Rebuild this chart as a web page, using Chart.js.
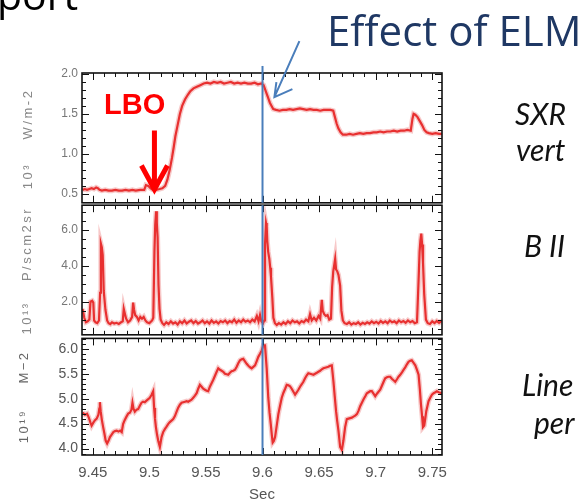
<!DOCTYPE html>
<html>
<head>
<meta charset="utf-8">
<script src="https://cdn.jsdelivr.net/npm/chart.js@4.4.1/dist/chart.umd.min.js"></script>
<style>
  html, body { margin: 0; padding: 0; background: #fff; }
  #wrap { position: relative; width: 581px; height: 504px; overflow: hidden; background: #fff; }
  #wrap canvas { position: absolute; left: 0; }
  #c1 { top: 0; }
  #c2 { top: 194px; }
  #c3 { top: 326px; }
  #notes { position: absolute; left: 0; top: 0; pointer-events: none; }
</style>
</head>
<body>
<div id="wrap">
  <canvas id="c1" width="581" height="214"></canvas>
  <canvas id="c2" width="581" height="152"></canvas>
  <canvas id="c3" width="581" height="178"></canvas>
  <svg id="notes" width="581" height="504">
    <text x="-3" y="10" font-family="Open Sans" font-size="41" fill="#000">port</text>
    <text x="327" y="46" font-family="Open Sans" font-size="42" fill="#1f3864">Effect of ELM</text>
    <text x="104" y="114" font-family="Liberation Sans" font-weight="bold" font-size="29" fill="#ff0000">LBO</text>

    <g font-family="Lato" font-style="italic" font-size="30" fill="#111">
      <text x="515" y="125">SXR</text>
      <text x="516" y="161">vert</text>
      <text x="524" y="257">B II</text>
      <text x="522" y="396">Line</text>
      <text x="534" y="434">per</text>
    </g>

    <g font-family="Liberation Sans" font-size="13" letter-spacing="2.5" text-anchor="middle" dominant-baseline="central">
      <text fill="#888" transform="translate(27,114) rotate(-90)">W/m-2</text>
      <text fill="#888" transform="translate(27,176) rotate(-90)">10³</text>
      <text fill="#888" transform="translate(26,244) rotate(-90)">P/scm2sr</text>
      <text fill="#888" transform="translate(26,318) rotate(-90)">10¹³</text>
      <text fill="#666" transform="translate(23,367) rotate(-90)">M−2</text>
      <text fill="#666" transform="translate(23,426) rotate(-90)">10¹⁹</text>
    </g>
  </svg>
</div>

<script>
// ---------- data ----------
const timeRange = [9.4405, 9.7586];
const timeTicks = [9.45, 9.5, 9.55, 9.6, 9.65, 9.7, 9.75];
const elmTime = 9.6;

// SXR (10^3 W/m-2)
const sxrRange = [0.388, 2.012];
const sxrTicks = [0.5, 1.0, 1.5, 2.0];
const sxrSeries = [
  [9.4410,0.55],[9.4430,0.56],[9.4450,0.55],[9.4470,0.56],[9.4490,0.57],[9.4510,0.56],[9.4530,0.58],[9.4545,0.57],
  [9.4560,0.55],[9.4580,0.54],[9.4610,0.55],[9.4640,0.54],[9.4670,0.54],[9.4700,0.55],[9.4730,0.54],[9.4760,0.54],
  [9.4790,0.55],[9.4820,0.54],[9.4850,0.55],[9.4880,0.54],[9.4920,0.55],[9.4955,0.55],[9.4970,0.61],[9.4990,0.60],
  [9.5010,0.57],[9.5030,0.55],[9.5060,0.55],[9.5090,0.56],[9.5115,0.57],[9.5140,0.60],[9.5160,0.68],[9.5180,0.80],
  [9.5200,0.95],[9.5215,1.08],[9.5230,1.22],[9.5250,1.36],[9.5270,1.50],[9.5290,1.60],[9.5315,1.68],[9.5340,1.74],
  [9.5360,1.78],[9.5390,1.82],[9.5420,1.84],[9.5450,1.86],[9.5480,1.88],[9.5510,1.89],[9.5540,1.88],[9.5570,1.90],
  [9.5600,1.89],[9.5630,1.90],[9.5660,1.88],[9.5690,1.89],[9.5720,1.90],[9.5750,1.88],[9.5780,1.89],[9.5810,1.88],
  [9.5840,1.89],[9.5870,1.88],[9.5900,1.88],[9.5930,1.89],[9.5960,1.87],[9.5990,1.88],[9.6010,1.86],[9.6030,1.78],
  [9.6050,1.70],[9.6065,1.64],[9.6080,1.60],[9.6095,1.56],[9.6120,1.55],[9.6150,1.54],[9.6180,1.55],[9.6210,1.55],
  [9.6240,1.56],[9.6270,1.55],[9.6300,1.56],[9.6330,1.57],[9.6360,1.56],[9.6390,1.55],[9.6420,1.56],[9.6450,1.55],
  [9.6480,1.55],[9.6510,1.54],[9.6540,1.55],[9.6570,1.55],[9.6600,1.55],[9.6625,1.54],[9.6640,1.46],[9.6655,1.38],
  [9.6670,1.32],[9.6690,1.27],[9.6710,1.24],[9.6740,1.24],[9.6770,1.25],[9.6800,1.24],[9.6830,1.25],[9.6860,1.26],
  [9.6890,1.25],[9.6920,1.26],[9.6950,1.26],[9.6980,1.27],[9.7010,1.27],[9.7040,1.28],[9.7070,1.27],[9.7100,1.28],
  [9.7130,1.28],[9.7160,1.29],[9.7190,1.28],[9.7220,1.29],[9.7250,1.29],[9.7280,1.30],[9.7310,1.29],[9.7325,1.44],
  [9.7335,1.50],[9.7350,1.49],[9.7370,1.46],[9.7390,1.41],[9.7410,1.36],[9.7430,1.30],[9.7450,1.27],[9.7470,1.26],
  [9.7500,1.25],[9.7530,1.26],[9.7560,1.25],[9.7586,1.25]
];

// B II (10^13 P/scm2sr)
const bRange = [0.15, 7.39];
const bTicks = [2.0, 4.0, 6.0];
const bSeries = [
  [9.4410,1.60],[9.4425,1.10],[9.4440,0.85],[9.4455,0.90],[9.4470,1.00],[9.4480,2.00],[9.4495,2.05],[9.4505,1.95],
  [9.4512,0.95],[9.4525,0.85],[9.4540,0.80],[9.4555,0.95],[9.4565,2.50],[9.4572,5.25],[9.4580,5.05],[9.4588,4.60],
  [9.4597,2.60],[9.4612,1.55],[9.4627,0.95],[9.4640,0.80],[9.4655,0.75],[9.4670,0.85],[9.4690,0.78],[9.4710,0.82],
  [9.4730,0.76],[9.4750,0.85],[9.4765,0.90],[9.4774,1.60],[9.4785,1.30],[9.4795,1.05],[9.4812,0.85],[9.4830,0.95],
  [9.4848,1.15],[9.4857,1.95],[9.4865,1.55],[9.4875,1.25],[9.4890,1.15],[9.4905,0.95],[9.4920,1.15],[9.4935,1.05],
  [9.4950,1.15],[9.4965,0.95],[9.4980,0.85],[9.5000,0.80],[9.5025,0.95],[9.5035,1.10],[9.5045,4.80],[9.5052,6.30],
  [9.5060,7.05],[9.5066,6.40],[9.5073,5.60],[9.5081,2.95],[9.5090,1.60],[9.5100,1.00],[9.5115,0.80],[9.5130,0.70],
  [9.5150,0.85],[9.5170,0.75],[9.5190,0.90],[9.5210,0.78],[9.5230,0.85],[9.5250,0.72],[9.5270,0.90],[9.5290,0.80],
  [9.5310,0.95],[9.5330,0.78],[9.5350,0.88],[9.5370,0.95],[9.5390,0.80],[9.5410,0.92],[9.5430,0.78],[9.5450,0.85],
  [9.5470,0.95],[9.5490,0.80],[9.5510,0.90],[9.5530,0.78],[9.5550,0.95],[9.5570,0.82],[9.5590,0.90],[9.5610,0.78],
  [9.5630,0.92],[9.5650,0.85],[9.5670,0.95],[9.5690,0.80],[9.5710,0.92],[9.5730,0.85],[9.5750,1.00],[9.5770,0.82],
  [9.5790,0.95],[9.5810,0.85],[9.5830,1.00],[9.5850,0.88],[9.5870,0.95],[9.5890,0.85],[9.5910,1.00],[9.5930,0.90],
  [9.5950,1.20],[9.5965,0.90],[9.5978,1.25],[9.5990,0.90],[9.6005,0.80],[9.6015,0.95],[9.6022,5.20],[9.6031,6.40],
  [9.6037,6.20],[9.6042,5.40],[9.6050,4.80],[9.6060,4.40],[9.6068,3.90],[9.6075,3.40],[9.6087,2.20],[9.6096,1.10],
  [9.6110,0.80],[9.6126,0.70],[9.6145,0.80],[9.6165,0.72],[9.6185,0.85],[9.6205,0.75],[9.6225,0.90],[9.6245,0.80],
  [9.6265,0.95],[9.6285,0.85],[9.6305,0.90],[9.6325,0.78],[9.6345,0.92],[9.6365,0.85],[9.6385,1.00],[9.6405,0.90],
  [9.6420,1.30],[9.6435,0.95],[9.6455,1.10],[9.6475,0.95],[9.6495,1.20],[9.6510,1.05],[9.6524,2.10],[9.6532,1.50],
  [9.6545,1.30],[9.6560,1.20],[9.6575,1.25],[9.6590,1.00],[9.6605,1.05],[9.6615,2.80],[9.6625,3.70],[9.6635,4.10],
  [9.6642,4.40],[9.6650,3.80],[9.6660,3.70],[9.6671,3.50],[9.6686,2.90],[9.6697,1.50],[9.6710,0.95],[9.6725,0.80],
  [9.6745,0.75],[9.6765,0.85],[9.6785,0.72],[9.6805,0.80],[9.6825,0.75],[9.6845,0.85],[9.6865,0.72],[9.6885,0.82],
  [9.6905,0.76],[9.6925,0.85],[9.6945,0.78],[9.6965,0.90],[9.6985,0.80],[9.7005,0.88],[9.7025,0.78],[9.7045,0.92],
  [9.7065,0.82],[9.7085,0.90],[9.7105,0.80],[9.7125,0.95],[9.7145,0.85],[9.7165,0.90],[9.7185,0.80],[9.7205,0.95],
  [9.7225,0.85],[9.7245,0.92],[9.7265,0.82],[9.7285,0.95],[9.7305,0.85],[9.7325,0.92],[9.7345,0.80],[9.7365,0.85],
  [9.7379,3.20],[9.7388,4.80],[9.7395,5.40],[9.7403,5.80],[9.7410,5.20],[9.7418,4.20],[9.7429,2.40],[9.7444,1.00],
  [9.7460,0.80],[9.7480,0.75],[9.7500,0.90],[9.7520,0.80],[9.7540,0.92],[9.7560,0.82],[9.7586,0.95]
];

// line density (10^19 M-2)
const neRange = [3.87, 6.21];
const neTicks = [4.0, 4.5, 5.0, 5.5, 6.0];
const neSeries = [
  [9.4410,4.72],[9.4430,4.68],[9.4450,4.70],[9.4465,4.62],[9.4480,4.52],[9.4490,4.46],[9.4505,4.52],[9.4520,4.57],
  [9.4535,4.60],[9.4550,4.68],[9.4558,4.80],[9.4563,4.93],[9.4570,4.75],[9.4580,4.58],[9.4592,4.43],[9.4603,4.30],
  [9.4614,4.16],[9.4627,4.10],[9.4640,4.16],[9.4652,4.23],[9.4667,4.28],[9.4682,4.33],[9.4697,4.35],[9.4712,4.36],
  [9.4727,4.34],[9.4742,4.36],[9.4756,4.33],[9.4768,4.49],[9.4782,4.57],[9.4798,4.64],[9.4813,4.70],[9.4828,4.72],
  [9.4842,4.78],[9.4851,4.92],[9.4860,4.80],[9.4872,4.74],[9.4887,4.78],[9.4901,4.79],[9.4916,4.86],[9.4931,4.92],
  [9.4945,4.94],[9.4960,4.93],[9.4975,4.96],[9.4990,4.99],[9.5004,5.02],[9.5020,5.08],[9.5034,5.15],[9.5042,4.82],
  [9.5050,4.60],[9.5058,4.43],[9.5068,4.28],[9.5078,4.16],[9.5093,4.03],[9.5108,4.23],[9.5122,4.33],[9.5137,4.39],
  [9.5152,4.44],[9.5166,4.49],[9.5181,4.53],[9.5196,4.56],[9.5211,4.59],[9.5226,4.65],[9.5241,4.74],[9.5255,4.82],
  [9.5270,4.88],[9.5285,4.92],[9.5300,4.93],[9.5315,4.94],[9.5329,4.95],[9.5344,4.94],[9.5358,4.96],[9.5373,4.98],
  [9.5388,5.02],[9.5403,5.06],[9.5418,5.11],[9.5432,5.20],[9.5447,5.28],[9.5462,5.24],[9.5476,5.20],[9.5491,5.18],
  [9.5506,5.16],[9.5520,5.15],[9.5535,5.24],[9.5550,5.31],[9.5565,5.38],[9.5580,5.46],[9.5595,5.54],[9.5609,5.61],
  [9.5624,5.58],[9.5639,5.56],[9.5653,5.54],[9.5668,5.50],[9.5683,5.49],[9.5697,5.48],[9.5712,5.52],[9.5727,5.55],
  [9.5742,5.56],[9.5757,5.58],[9.5772,5.64],[9.5786,5.71],[9.5801,5.77],[9.5816,5.79],[9.5830,5.80],[9.5845,5.75],
  [9.5860,5.70],[9.5875,5.66],[9.5890,5.63],[9.5904,5.61],[9.5919,5.64],[9.5934,5.67],[9.5948,5.75],[9.5963,5.84],
  [9.5978,5.90],[9.5993,5.97],[9.6007,6.07],[9.6022,6.07],[9.6037,5.61],[9.6051,5.02],[9.6062,4.72],[9.6073,4.49],
  [9.6082,4.28],[9.6090,4.12],[9.6100,4.15],[9.6111,4.23],[9.6125,4.45],[9.6140,4.69],[9.6155,4.86],[9.6170,5.02],
  [9.6185,5.12],[9.6200,5.20],[9.6214,5.28],[9.6229,5.27],[9.6243,5.25],[9.6258,5.20],[9.6273,5.14],[9.6288,5.08],
  [9.6303,5.13],[9.6317,5.18],[9.6332,5.24],[9.6347,5.29],[9.6361,5.34],[9.6376,5.41],[9.6391,5.47],[9.6405,5.51],
  [9.6420,5.50],[9.6435,5.49],[9.6450,5.48],[9.6465,5.50],[9.6480,5.52],[9.6494,5.54],[9.6509,5.56],[9.6524,5.59],
  [9.6538,5.61],[9.6553,5.62],[9.6568,5.63],[9.6582,5.64],[9.6597,5.66],[9.6612,5.67],[9.6620,5.50],[9.6627,5.34],
  [9.6638,5.05],[9.6650,4.75],[9.6660,4.55],[9.6671,4.36],[9.6686,4.03],[9.6701,3.97],[9.6715,4.16],[9.6730,4.43],
  [9.6745,4.59],[9.6760,4.60],[9.6775,4.61],[9.6789,4.62],[9.6804,4.64],[9.6819,4.66],[9.6834,4.69],[9.6849,4.76],
  [9.6863,4.85],[9.6878,4.92],[9.6893,4.99],[9.6908,5.05],[9.6922,5.11],[9.6937,5.13],[9.6952,5.15],[9.6966,5.15],
  [9.6981,5.10],[9.6996,5.05],[9.7011,5.10],[9.7025,5.14],[9.7040,5.18],[9.7055,5.26],[9.7070,5.34],[9.7084,5.41],
  [9.7099,5.43],[9.7114,5.44],[9.7128,5.44],[9.7143,5.40],[9.7158,5.37],[9.7173,5.34],[9.7188,5.39],[9.7202,5.44],
  [9.7217,5.48],[9.7232,5.53],[9.7246,5.58],[9.7261,5.63],[9.7276,5.69],[9.7290,5.74],[9.7305,5.76],[9.7319,5.77],
  [9.7335,5.72],[9.7350,5.67],[9.7365,5.58],[9.7379,5.48],[9.7390,5.20],[9.7400,4.89],[9.7410,4.65],[9.7418,4.43],
  [9.7429,4.46],[9.7438,4.60],[9.7447,4.75],[9.7457,4.85],[9.7467,4.95],[9.7482,5.02],[9.7497,5.08],[9.7512,5.11],
  [9.7527,5.13],[9.7541,5.15],[9.7556,5.13],[9.7571,5.12],[9.7586,5.11]
];

// ---------- frame, inward ticks, ELM marker, arrows ----------
const panelDecor = {
  id: "panelDecor",
  afterDatasetsDraw(chart, args, o) {
    const { ctx, chartArea: a } = chart;
    const xs = chart.scales.x;
    const ys = chart.scales.y;
    ctx.save();

    ctx.strokeStyle = "#111";
    ctx.lineWidth = 1;
    ctx.beginPath();
    for (let i = Math.ceil(ys.min / o.yMinor - 1e-6); i * o.yMinor <= ys.max + 1e-9; i++) {
      const v = i * o.yMinor;
      const len = Math.abs(v / o.yMajor - Math.round(v / o.yMajor)) < 1e-6 ? 7 : 4;
      const py = Math.round(ys.getPixelForValue(v)) + 0.5;
      ctx.moveTo(a.left, py); ctx.lineTo(a.left + len, py);
      ctx.moveTo(a.right, py); ctx.lineTo(a.right - len, py);
    }
    for (let i = Math.ceil(xs.min / 0.01 - 1e-6); i * 0.01 <= xs.max + 1e-9; i++) {
      const v = i * 0.01;
      const len = Math.abs(v / 0.05 - Math.round(v / 0.05)) < 1e-6 ? 7 : 4;
      const px = Math.round(xs.getPixelForValue(v)) + 0.5;
      ctx.moveTo(px, a.top); ctx.lineTo(px, a.top + len);
      ctx.moveTo(px, a.bottom); ctx.lineTo(px, a.bottom - len);
    }
    ctx.stroke();

    ctx.lineWidth = 1.6;
    ctx.strokeRect(a.left, a.top, a.right - a.left, a.bottom - a.top);

    // blue ELM marker
    const bx = xs.getPixelForValue(elmTime);
    const top = o.markerTop != null ? ys.getPixelForValue(o.markerTop) : a.top;
    ctx.strokeStyle = "#4a7ebb";
    ctx.lineWidth = 2;
    ctx.beginPath();
    ctx.moveTo(bx, top);
    ctx.lineTo(bx, a.bottom);
    ctx.stroke();

    if (o.arrows) {
      // LBO arrow
      const rx = xs.getPixelForValue(9.5045);
      const ry = ys.getPixelForValue(0.53);
      ctx.strokeStyle = "#ff0000";
      ctx.lineWidth = 5;
      ctx.beginPath();
      ctx.moveTo(rx, ry - 61); ctx.lineTo(rx, ry - 2);
      ctx.moveTo(rx - 13, ry - 26); ctx.lineTo(rx, ry - 2); ctx.lineTo(rx + 13, ry - 26);
      ctx.stroke();

      // ELM arrow
      const ex = xs.getPixelForValue(9.6105);
      const ey = ys.getPixelForValue(1.71);
      ctx.strokeStyle = "#4a7ebb";
      ctx.lineWidth = 2;
      ctx.beginPath();
      ctx.moveTo(ex + 25, ey - 56); ctx.lineTo(ex, ey);
      ctx.moveTo(ex + 2, ey - 15); ctx.lineTo(ex, ey); ctx.lineTo(ex + 18, ey - 8);
      ctx.stroke();
    }
    ctx.restore();
  }
};

function toPoints(series) {
  return series.map(p => ({ x: p[0], y: p[1] }));
}

function makePanel(id, series, range, ticks, opts) {
  const pts = toPoints(series);
  return new Chart(document.getElementById(id), {
    type: "line",
    data: {
      datasets: [
        { data: pts, borderColor: "rgba(235,120,120,0.4)", borderWidth: 5, pointRadius: 0, tension: 0 },
        { data: pts, borderColor: "#e60000", borderWidth: 2.2, pointRadius: 0, tension: 0 }
      ]
    },
    options: {
      responsive: false,
      animation: false,
      events: [],
      layout: { padding: { left: 0, right: 139, top: opts.padTop, bottom: opts.padBottom } },
      plugins: {
        legend: { display: false },
        tooltip: { enabled: false },
        panelDecor: { yMinor: opts.yMinor, yMajor: opts.yMajor, markerTop: opts.markerTop, arrows: opts.arrows }
      },
      scales: {
        x: {
          type: "linear",
          min: timeRange[0],
          max: timeRange[1],
          display: opts.showX,
          grid: { display: false, drawTicks: false },
          border: { display: false },
          afterBuildTicks: s => { s.ticks = timeTicks.map(v => ({ value: v })); },
          afterFit: s => { if (opts.showX) s.height = 49; },
          ticks: {
            padding: 9,
            maxRotation: 0,
            autoSkip: false,
            color: "#555",
            font: { family: "Liberation Sans", size: 15 },
            callback: v => String(+v.toFixed(2))
          },
          title: {
            display: opts.showX,
            text: "Sec",
            color: "#555",
            padding: 0,
            font: { family: "Liberation Sans", size: 15 }
          }
        },
        y: {
          min: range[0],
          max: range[1],
          grid: { display: false, drawTicks: false },
          border: { display: false },
          afterBuildTicks: s => { s.ticks = ticks.map(v => ({ value: v })); },
          afterFit: s => { s.width = 82; },
          ticks: {
            padding: 4,
            color: opts.tickColor,
            font: { family: "Liberation Sans", size: opts.tickSize },
            callback: v => v.toFixed(1)
          }
        }
      }
    },
    plugins: [panelDecor]
  });
}

makePanel("c1", sxrSeries, sxrRange, sxrTicks,
  { padTop: 73, padBottom: 10, yMinor: 0.1, yMajor: 0.5, markerTop: 2.1, arrows: true, showX: false, tickColor: "#777", tickSize: 12 });
makePanel("c2", bSeries, bRange, bTicks,
  { padTop: 10, padBottom: 10, yMinor: 0.5, yMajor: 2.0, showX: false, tickColor: "#777", tickSize: 12 });
makePanel("c3", neSeries, neRange, neTicks,
  { padTop: 10, padBottom: 0, yMinor: 0.1, yMajor: 0.5, showX: true, tickColor: "#555", tickSize: 14 });
</script>
</body>
</html>
